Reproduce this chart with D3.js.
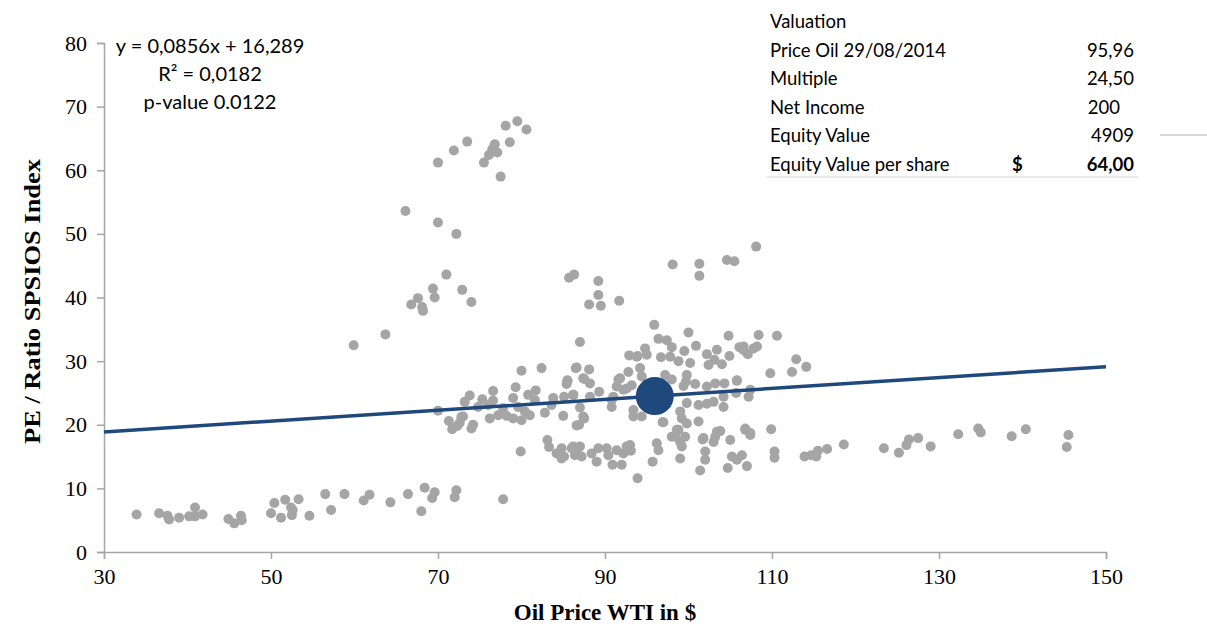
<!DOCTYPE html>
<html>
<head>
<meta charset="utf-8">
<script src="https://cdn.jsdelivr.net/npm/d3@7"></script>
<style>
  body { margin: 0; background: #fff; }
  svg { display: block; }
</style>
</head>
<body>
<div id="chart"></div>
<script>
// axis ticks
const xTicks = [30, 50, 70, 90, 110, 130, 150];
const yTicks = [0, 10, 20, 30, 40, 50, 60, 70, 80];

// regression: y = 0,0856x + 16,289
const slope = 0.0856;
const intercept = 16.289;
const regText = ["y = 0,0856x + 16,289", "R² = 0,0182", "p-value 0.0122"];

// current valuation point (oil price, multiple)
const current = [95.96, 24.5];

// valuation table
const tableLabels = ["Valuation", "Price Oil 29/08/2014", "Multiple", "Net Income", "Equity Value", "Equity Value per share"];
const tableValues = ["", "95,96", "24,50", "200", "4909", "64,00"];

const lowCluster = [
  [33.9,5.9],[36.6,6.1],[37.6,5.7],[37.8,5.1],[39.0,5.4],[40.2,5.6],[40.9,7.0],[40.9,5.6],[41.8,5.9],
  [44.9,5.2],[45.6,4.5],[46.4,5.7],[46.5,5.0],[50.0,6.1],[50.4,7.7],[51.2,5.4],[51.7,8.2],[52.4,7.0],
  [52.5,5.8],[52.6,6.6],[53.3,8.3],[54.6,5.7],[56.5,9.1],[57.2,6.6],[58.8,9.1],[61.1,8.1],[61.8,9.0],
  [64.3,7.8],[66.4,9.1],[68.0,6.4],[68.4,10.1],[69.3,8.5],[69.6,9.4],[72.0,8.6],[72.2,9.7],[77.8,8.3]
];
const highCluster = [
  [70.0,61.2],[71.9,63.1],[73.5,64.5],[75.5,61.2],[76.1,62.4],[76.5,63.3],[76.8,64.1],[77.1,62.8],
  [77.5,59.0],[78.1,67.0],[78.6,64.4],[79.5,67.7],[80.6,66.4],[66.1,53.6],[70.0,51.8],[72.2,50.0],
  [71.0,43.6],[69.4,41.4],[72.9,41.2],[67.6,39.9],[69.6,40.0],[66.8,38.9],[68.1,38.5],[68.2,37.9],
  [74.0,39.3],[63.7,34.2],[59.9,32.5]
];
const midBand = [
  [80.0,28.5],[82.4,28.9],[76.6,25.3],[79.3,25.9],[87.0,33.0],[92.9,30.9],[93.8,30.7],[86.6,29.0],
  [88.1,28.7],[92.8,28.3],[85.5,27.0],[87.5,27.2],[88.2,26.5],[91.6,27.1],[81.7,25.4],[85.4,26.4],
  [89.3,25.2],[91.4,26.0],[92.6,25.7],[73.8,24.6],[75.3,24.0],[76.6,23.8],[79.0,24.2],[80.8,24.7],
  [81.6,23.9],[85.1,24.4],[86.2,24.7],[90.8,23.9],[73.2,23.6],[74.8,22.8],[76.0,23.1],[77.8,22.6],
  [79.6,22.8],[80.4,22.1],[82.8,21.9],[83.6,23.1],[87.0,22.7],[90.8,22.8],[73.0,21.3],[74.2,20.0],
  [74.0,19.4],[76.2,21.0],[77.2,21.5],[78.2,21.4],[79.0,21.0],[80.0,20.7],[81.0,21.5],[85.0,21.4],
  [86.9,20.0],[87.5,21.0],[72.6,20.3],[70.0,22.2],[71.3,20.6],[71.7,19.3],[72.3,19.8],[72.8,21.2],
  [83.8,24.2],[86.2,24.7],[88.2,24.4],[85.5,26.8],[87.4,27.3],[86.5,28.9],[91.8,27.3],[93.2,26.2],
  [91.0,24.4],[92.2,25.5],[93.4,22.3],[93.4,21.3],[94.4,21.3],[87.4,21.3],[86.6,19.9]
];
const upperRight = [
  [98.1,45.2],[101.3,45.3],[101.3,43.4],[104.6,45.9],[105.5,45.7],[85.7,43.1],[86.3,43.6],[89.2,42.6],
  [89.2,40.4],[88.1,38.9],[89.5,38.7],[91.7,39.5],[95.9,35.7],[100.0,34.5],[104.8,34.0],[96.4,33.5],
  [97.4,33.3],[98.0,32.2],[94.8,32.0],[93.9,30.8],[95.0,31.0],[96.7,30.6],[97.8,30.7],[99.5,31.6],
  [100.9,32.4],[103.4,31.8],[102.2,31.1],[103.1,30.2],[104.9,30.8],[106.1,32.2],[106.6,31.7],[98.8,30.0],
  [100.2,29.7],[102.4,29.4],[104.0,29.5],[94.2,28.9],[97.2,27.8],[99.8,27.8],[99.7,26.8],[94.4,27.6],
  [98.0,27.1],[99.4,26.1],[100.8,26.4],[102.2,26.0],[103.2,26.5],[104.3,26.5],[105.8,27.0],[99.8,23.4],
  [101.2,23.1],[102.2,23.3],[103.0,23.6],[104.2,22.8],[107.4,25.5],[99.0,22.1],[99.2,21.0],[97.0,20.4],
  [99.8,20.2],[101.2,20.5],[105.7,25.0],[104.2,24.4],[108.1,48.0],[108.4,34.1],[110.6,34.0],[106.6,32.3],
  [107.8,32.0],[107.1,31.1],[108.2,32.3],[112.9,30.3],[114.1,29.1],[112.4,28.3],[109.8,28.1],[105.8,26.9],
  [107.2,24.4]
];
const lowerBand = [
  [83.1,17.6],[83.3,16.5],[84.2,15.5],[84.8,16.3],[85.1,15.0],[86.0,16.3],[86.4,15.2],[87.0,16.6],
  [87.2,15.0],[88.4,15.5],[89.0,14.2],[89.2,16.3],[90.2,16.3],[90.4,15.2],[90.9,13.7],[91.4,16.0],
  [92.0,13.7],[92.2,15.5],[93.0,16.8],[93.1,15.9],[93.9,11.6],[79.9,15.8],[84.8,14.7],[86.2,16.6],
  [86.6,15.5],[92.6,16.6],[95.7,14.2],[96.2,17.1],[96.4,16.0],[96.9,20.4],[98.0,18.1],[98.6,19.2],
  [99.0,17.3],[99.2,16.6],[99.6,18.1],[99.0,14.7],[101.7,17.7],[102.0,15.8],[102.0,14.5],[101.4,12.8],
  [103.0,17.3],[103.4,18.9],[105.0,17.6],[105.2,15.0],[105.8,14.5],[106.4,15.2],[104.7,13.2],[107.0,13.5],
  [101.8,17.9],[103.8,19.0],[106.8,19.2],[98.8,19.2],[98.4,18.1],[103.2,18.1],[107.4,18.4],[106.8,19.4],
  [107.4,18.7],[109.9,19.3],[110.3,15.8],[110.3,14.8],[113.9,15.0],[114.7,15.2],[115.3,15.0],[115.5,15.9],
  [116.6,16.2],[118.6,16.9],[123.4,16.3],[125.2,15.6],[126.1,16.8],[126.4,17.7],[127.5,17.9],[129.0,16.6],
  [132.3,18.5],[134.7,19.4],[135.0,18.8],[138.7,18.2],[140.4,19.3],[145.5,18.4],[145.3,16.5]
];
const scatter = [].concat(lowCluster, highCluster, midBand, upperRight, lowerBand);

const width = 1207, height = 626;
const svg = d3.select("#chart").append("svg")
  .attr("width", width)
  .attr("height", height);

const x = d3.scaleLinear().domain([30, 150]).range([104, 1106]);
const y = d3.scaleLinear().domain([0, 80]).range([552, 43]);

const axisColor = "#a6a6a6";
const tickFont = "'Liberation Serif', 'DejaVu Serif', serif";

// y axis
const yAxis = svg.append("g")
  .attr("transform", "translate(" + x(30) + ",0)")
  .call(d3.axisLeft(y).tickValues(yTicks).tickSize(7).tickPadding(10).tickFormat(d3.format("d")));
yAxis.select(".domain").attr("stroke", axisColor).attr("stroke-width", 1.5);
yAxis.selectAll(".tick line").attr("stroke", axisColor).attr("stroke-width", 1.5);
yAxis.selectAll(".tick text")
  .attr("font-family", tickFont).attr("font-size", 22).attr("fill", "#000");

// x axis
const xAxis = svg.append("g")
  .attr("transform", "translate(0," + y(0) + ")")
  .call(d3.axisBottom(x).tickValues(xTicks).tickSize(7).tickPadding(9).tickFormat(d3.format("d")));
xAxis.select(".domain").attr("stroke", axisColor).attr("stroke-width", 1.5);
xAxis.selectAll(".tick line").attr("stroke", axisColor).attr("stroke-width", 1.5);
xAxis.selectAll(".tick text")
  .attr("font-family", tickFont).attr("font-size", 22).attr("fill", "#000");

// axis titles
svg.append("text")
  .attr("x", (x(30) + x(150)) / 2)
  .attr("y", 620)
  .attr("text-anchor", "middle")
  .attr("font-family", tickFont).attr("font-weight", "bold").attr("font-size", 23)
  .text("Oil Price WTI in $");

svg.append("text")
  .attr("transform", "translate(40," + (y(40) + 4) + ") rotate(-90)")
  .attr("text-anchor", "middle")
  .attr("font-family", tickFont).attr("font-weight", "bold").attr("font-size", 23)
  .attr("textLength", 285).attr("lengthAdjust", "spacingAndGlyphs")
  .text("PE / Ratio SPSIOS Index");

// scatter points
svg.append("g").selectAll("circle")
  .data(scatter)
  .join("circle")
    .attr("cx", d => x(d[0]))
    .attr("cy", d => y(d[1]))
    .attr("r", 5)
    .attr("fill", "#a5a5a5");

// trendline
const navy = "#1f497d";
svg.append("path")
  .datum([30, 150])
  .attr("fill", "none")
  .attr("stroke", navy)
  .attr("stroke-width", 3.5)
  .attr("d", d3.line()
    .x(d => x(d))
    .y(d => y(slope * d + intercept))
  );

// current point
svg.append("circle")
  .attr("cx", x(current[0]))
  .attr("cy", y(current[1]))
  .attr("r", 19)
  .attr("fill", navy);

// regression labels
const labelFont = "Lato, 'Open Sans', sans-serif";
svg.append("g").selectAll("text")
  .data(regText)
  .join("text")
    .attr("x", 210)
    .attr("y", (d, i) => 53 + i * 28)
    .attr("text-anchor", "middle")
    .attr("font-family", labelFont).attr("font-size", 20).attr("fill", "#000")
    .text(d => d);

// valuation table
const table = svg.append("g");
table.selectAll("text.label")
  .data(tableLabels)
  .join("text")
    .attr("class", "label")
    .attr("x", 770)
    .attr("y", (d, i) => 28 + i * 28.5)
    .attr("font-family", labelFont).attr("font-size", 18.5).attr("fill", "#000")
    .text(d => d);
table.selectAll("text.value")
  .data(tableValues)
  .join("text")
    .attr("class", "value")
    .attr("x", (d, i) => i === 3 ? 1120 : 1134)
    .attr("y", (d, i) => 28 + i * 28.5)
    .attr("text-anchor", "end")
    .attr("font-family", labelFont).attr("font-size", 18.5).attr("fill", "#000")
    .attr("font-weight", (d, i) => i === 5 ? "bold" : "normal")
    .text(d => d);
table.append("text")
  .attr("x", 1012).attr("y", 28 + 5 * 28.5)
  .attr("font-family", labelFont).attr("font-size", 18.5).attr("font-weight", "bold")
  .text("$");
table.append("line")
  .attr("x1", 767).attr("x2", 1138).attr("y1", 177).attr("y2", 177)
  .attr("stroke", "#e3e3e3").attr("stroke-width", 1.5);
table.append("line")
  .attr("x1", 1160).attr("x2", 1207).attr("y1", 135).attr("y2", 135)
  .attr("stroke", "#c8c8c8").attr("stroke-width", 1.5);
</script>
</body>
</html>
